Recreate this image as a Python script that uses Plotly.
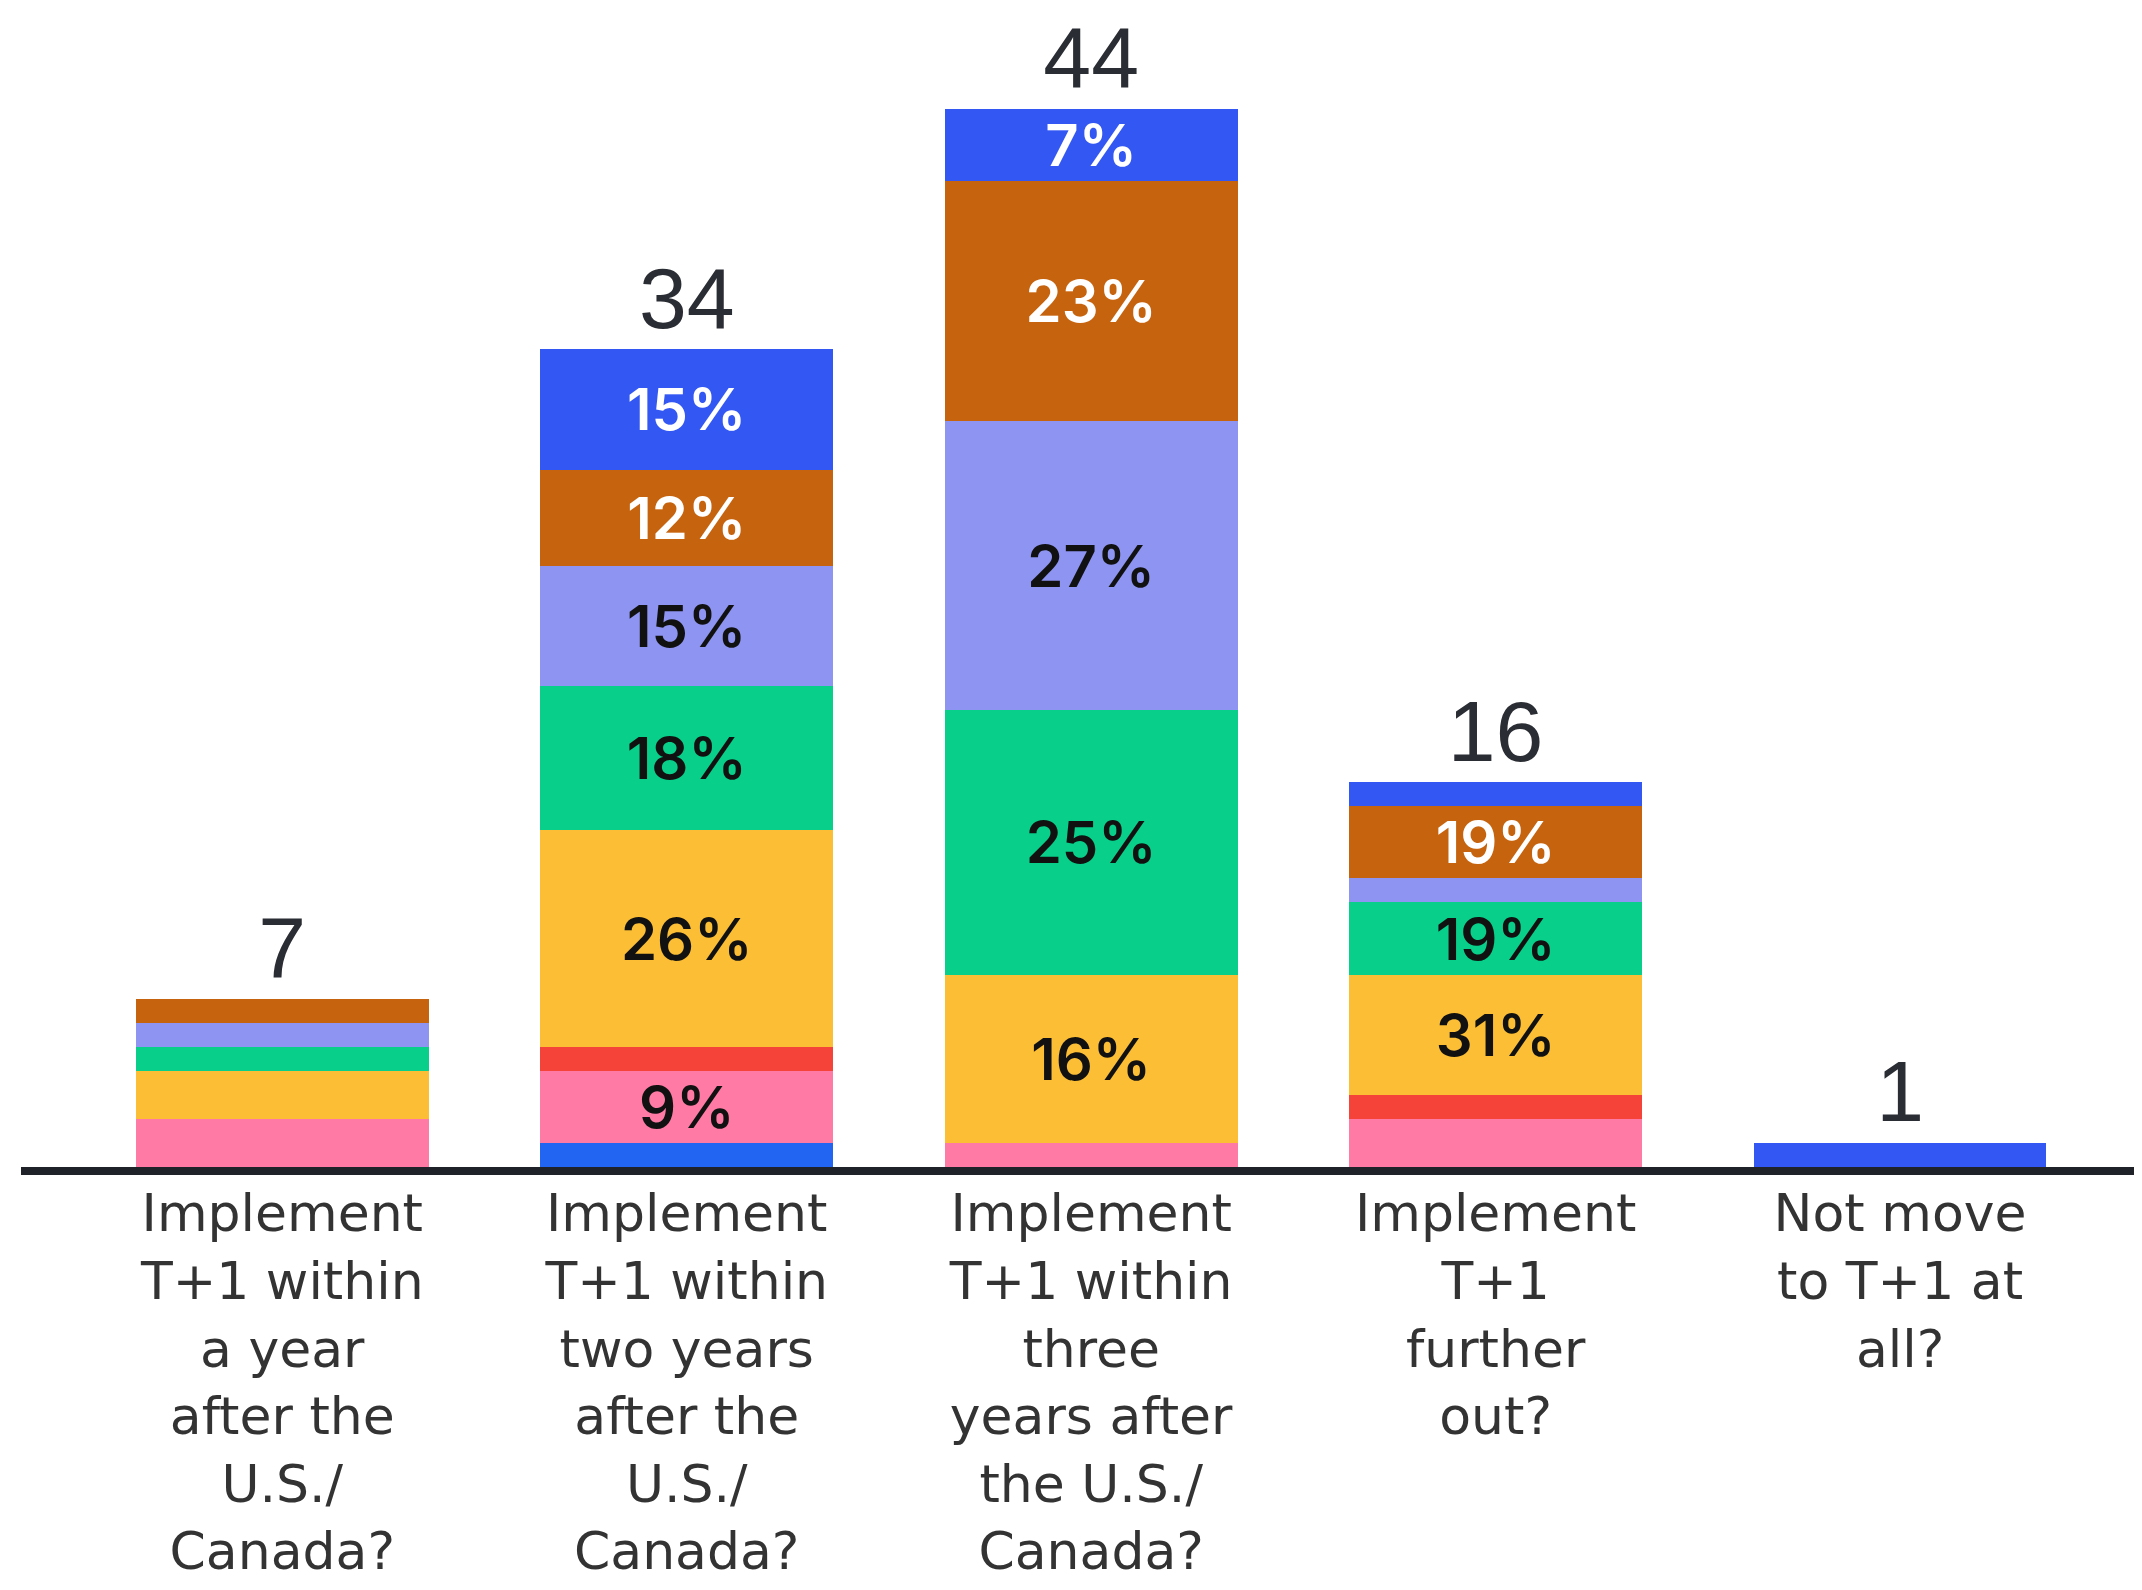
import plotly.graph_objects as go

categories = [
    "Implement<br>T+1 within<br>a year<br>after the<br>U.S./<br>Canada?",
    "Implement<br>T+1 within<br>two years<br>after the<br>U.S./<br>Canada?",
    "Implement<br>T+1 within<br>three<br>years after<br>the U.S./<br>Canada?",
    "Implement<br>T+1<br>further<br>out?",
    "Not move<br>to T+1 at<br>all?",
]
totals = [7, 34, 44, 16, 1]

# stacked segments (respondent counts), bottom to top
seg_other_blue = [0, 1, 0, 0, 0]
seg_pink = [2, 3, 1, 2, 0]
seg_red = [0, 1, 0, 1, 0]
seg_yellow = [2, 9, 7, 5, 0]
seg_green = [1, 6, 11, 3, 0]
seg_lavender = [1, 5, 12, 1, 0]
seg_brown = [1, 4, 10, 3, 0]
seg_blue = [0, 5, 3, 1, 1]

lbl_other_blue = ["", "", "", "", ""]
lbl_pink = ["", "9%", "", "", ""]
lbl_red = ["", "", "", "", ""]
lbl_yellow = ["", "26%", "16%", "31%", ""]
lbl_green = ["", "18%", "25%", "19%", ""]
lbl_lavender = ["", "15%", "27%", "", ""]
lbl_brown = ["", "12%", "23%", "19%", ""]
lbl_blue = ["", "15%", "7%", "", ""]

series = [
    ("Group 1", seg_other_blue, lbl_other_blue, "#2165F2", "#ffffff"),
    ("Group 2", seg_pink, lbl_pink, "#FF7BA6", "#111111"),
    ("Group 3", seg_red, lbl_red, "#F5433A", "#111111"),
    ("Group 4", seg_yellow, lbl_yellow, "#FBBE35", "#111111"),
    ("Group 5", seg_green, lbl_green, "#08D08A", "#111111"),
    ("Group 6", seg_lavender, lbl_lavender, "#8E94F2", "#111111"),
    ("Group 7", seg_brown, lbl_brown, "#C6630E", "#ffffff"),
    ("Group 8", seg_blue, lbl_blue, "#3357F2", "#ffffff"),
]

LBL_FONT = "Inter, Liberation Sans, Arial, sans-serif"
CAT_FONT = "DejaVu Sans, Verdana, sans-serif"
TOT_FONT = "Liberation Sans, Arial, sans-serif"

fig = go.Figure()
for name, vals, lbls, color, tcolor in series:
    fig.add_trace(go.Bar(
        x=categories, y=vals, name=name,
        marker=dict(color=color, line=dict(width=0)),
        text=lbls, textposition="inside", insidetextanchor="middle",
        textangle=0, constraintext="none",
        textfont=dict(family=LBL_FONT, size=58, color=tcolor, weight=600),
        hoverinfo="x+y+name",
    ))

fig.add_trace(go.Scatter(
    x=categories, y=totals, mode="text",
    text=[str(t) for t in totals], textposition="top center",
    textfont=dict(family=TOT_FONT, size=86, color="#2A2D33"),
    cliponaxis=False, hoverinfo="skip", showlegend=False,
))

fig.update_layout(
    barmode="stack",
    bargap=0.276,
    width=2142, height=1590,
    margin=dict(l=13, r=0, t=0, b=431),
    paper_bgcolor="white", plot_bgcolor="white",
    showlegend=False,
)
fig.update_xaxes(
    type="category",
    range=[-0.646, 4.618],
    showline=True, linewidth=8, linecolor="#1F2228",
    ticks="", showgrid=False, zeroline=False,
    tickfont=dict(family=CAT_FONT, size=52, color="#333333"),
    ticklabelstandoff=-6,
)
fig.update_yaxes(
    range=[0, 48.19], visible=False, showgrid=False, zeroline=False,
)

fig.write_html("out.html")
